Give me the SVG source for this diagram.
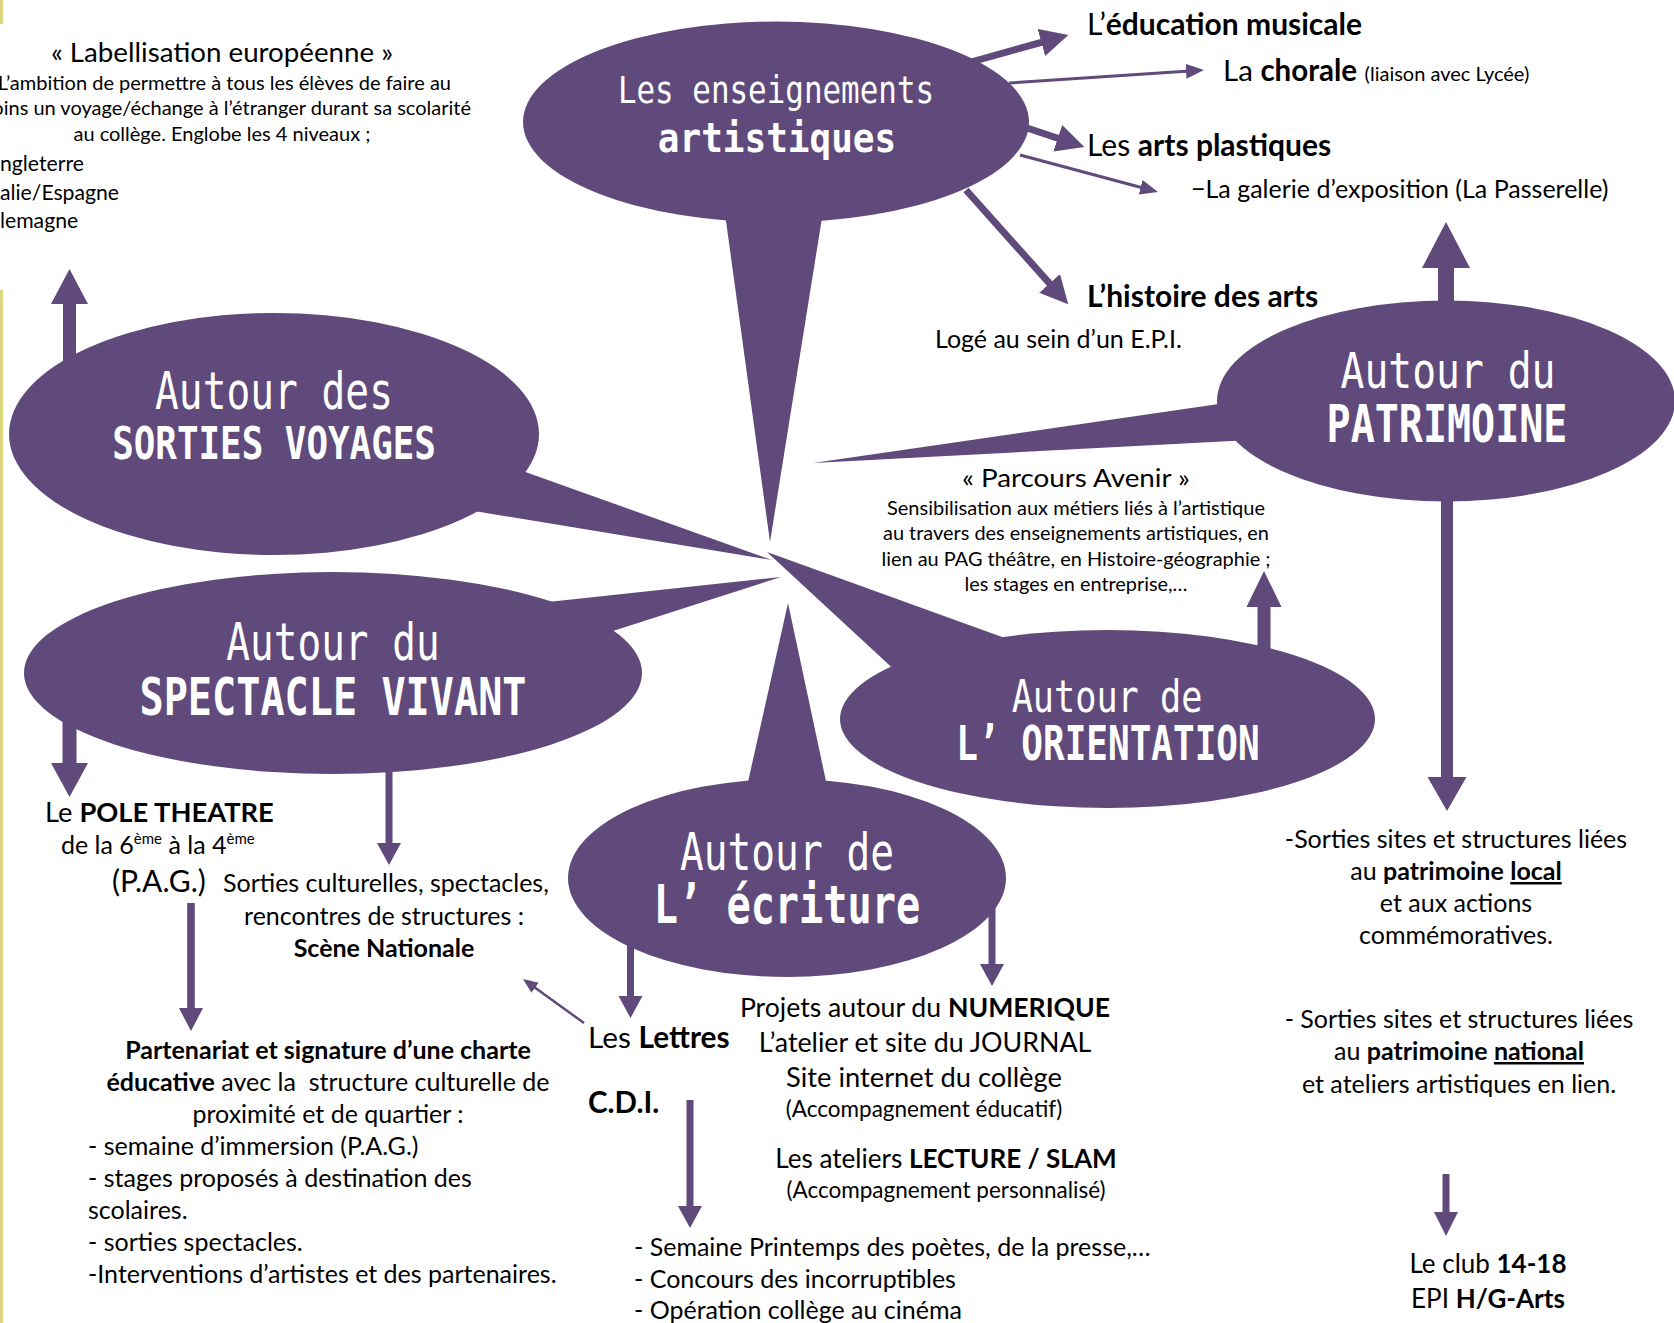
<svg xmlns="http://www.w3.org/2000/svg" width="1674" height="1323" viewBox="0 0 1674 1323">
<style>
.t{font-family:Lato,"Open Sans",sans-serif;fill:#000}
.b{font-weight:bold}
.bt{font-family:"DejaVu Sans Mono","Liberation Mono",monospace;fill:#fff;text-anchor:middle}
.p{fill:#604A7B}
.ln{stroke:#604A7B;fill:none}
.ar{fill:#604A7B}
.m{text-anchor:middle}
.e{text-anchor:end}
.u{text-decoration:underline}
</style>
<defs>
<marker id="hb" viewBox="0 0 10 10" refX="2" refY="5" markerWidth="4" markerHeight="4" orient="auto" markerUnits="strokeWidth"><path d="M0,0 L10,5 L0,10 z" fill="#604A7B"/></marker>
<marker id="hs" viewBox="0 0 12 10" refX="2.4" refY="5" markerWidth="6" markerHeight="5" orient="auto" markerUnits="strokeWidth"><path d="M0,0 L12,5 L0,10 z" fill="#604A7B"/></marker>
</defs>
<rect width="1674" height="1323" fill="#fff"/>
<g id="edge-stripe">
<rect x="0" y="0" width="3" height="24" fill="#DCD67E"/>
<rect x="0" y="290" width="3" height="1033" fill="#DCD67E"/>
</g>

<g id="connectors">
<line class="ln" x1="971" y1="62" x2="1046.8" y2="40.9" stroke-width="7" marker-end="url(#hb)"/>
<line class="ln" x1="1009" y1="83" x2="1189.6" y2="71" stroke-width="3" marker-end="url(#hs)"/>
<line class="ln" x1="1027" y1="128" x2="1063.1" y2="140" stroke-width="7" marker-end="url(#hb)"/>
<line class="ln" x1="1020" y1="155" x2="1144.1" y2="188.3" stroke-width="3" marker-end="url(#hs)"/>
<line class="ln" x1="966" y1="190" x2="1053.3" y2="287.6" stroke-width="7" marker-end="url(#hb)"/>
<line class="ln" x1="584" y1="1023" x2="532.7" y2="986" stroke-width="2.5" marker-end="url(#hs)"/>
<polygon class="ar" points="63,362 76,362 76,304 88,304 69.5,269 51,304 63,304"/>
<polygon class="ar" points="62.5,715 76.5,715 76.5,763 88,763 69.5,797 51,763 62.5,763"/>
<polygon class="ar" points="385.5,765 392.5,765 392.5,843 401,843 389,865 377,843 385.5,843"/>
<polygon class="ar" points="187.2,903 194.8,903 194.8,1008 203,1008 191,1031 179,1008 187.2,1008"/>
<polygon class="ar" points="627,940 634,940 634,996 642.5,996 630.5,1018 618.5,996 627,996"/>
<polygon class="ar" points="988.5,905 995.5,905 995.5,964 1004,964 992,986 980,964 988.5,964"/>
<polygon class="ar" points="686.5,1100 693.5,1100 693.5,1206 702,1206 690,1228 678,1206 686.5,1206"/>
<polygon class="ar" points="1441,495 1453,495 1453,777 1466.5,777 1447,811 1427.5,777 1441,777"/>
<polygon class="ar" points="1442.5,1174 1449.5,1174 1449.5,1212 1458,1212 1446,1236 1434,1212 1442.5,1212"/>
<polygon class="ar" points="1438,310 1454,310 1454,268 1470,268 1446,222 1422,268 1438,268"/>
<polygon class="ar" points="1257.5,652 1270.5,652 1270.5,607 1281.5,607 1264,571 1246.5,607 1257.5,607"/>
</g>

<g id="node-enseignements">
<ellipse class="p" cx="776" cy="122" rx="253" ry="100.5"/>
<polygon class="p" points="723,199 825,199 770,542"/>
<text class="bt" transform="translate(776,103) scale(0.835,1)" font-size="37">Les enseignements</text>
<text class="bt" transform="translate(777,152) scale(0.9,1)" font-size="40" font-weight="bold">artistiques</text>
</g>

<g id="node-sorties">
<ellipse class="p" cx="274" cy="434" rx="265" ry="121"/>
<polygon class="p" points="500,463 772,560 450,507"/>
<text class="bt" transform="translate(274,409) scale(0.775,1)" font-size="51">Autour des</text>
<text class="bt" transform="translate(274,459) scale(0.815,1)" font-size="44" font-weight="bold">SORTIES VOYAGES</text>
</g>

<g id="node-spectacle">
<ellipse class="p" cx="333" cy="673" rx="309" ry="101"/>
<polygon class="p" points="520,605 781,577 560,648"/>
<text class="bt" transform="translate(333,660) scale(0.772,1)" font-size="51">Autour du</text>
<text class="bt" transform="translate(333,715) scale(0.788,1)" font-size="51" font-weight="bold">SPECTACLE VIVANT</text>
</g>

<g id="node-patrimoine">
<ellipse class="p" cx="1446" cy="401" rx="229" ry="100.5"/>
<polygon class="p" points="813,463 1260,398 1270,439"/>
<text class="bt" transform="translate(1448,388) scale(0.81,1)" font-size="49">Autour du</text>
<text class="bt" transform="translate(1447,442) scale(0.785,1)" font-size="51" font-weight="bold">PATRIMOINE</text>
</g>

<g id="node-orientation">
<ellipse class="p" cx="1107.5" cy="719" rx="267.5" ry="89"/>
<polygon class="p" points="767,552 1030,647 940,712"/>
<text class="bt" transform="translate(1107,712) scale(0.8,1)" font-size="44">Autour de</text>
<text class="bt" transform="translate(1108,760) scale(0.75,1)" font-size="48" font-weight="bold" style="white-space:pre">L’ ORIENTATION</text>
</g>

<g id="node-ecriture">
<ellipse class="p" cx="787" cy="878" rx="219" ry="99"/>
<polygon class="p" points="788,603 830,800 744,800"/>
<text class="bt" transform="translate(787,870) scale(0.775,1)" font-size="51">Autour de</text>
<text class="bt" transform="translate(787,923) scale(0.76,1)" font-size="53" font-weight="bold" style="white-space:pre">L’ écriture</text>
</g>

<g id="text-labellisation">
<text class="t m" x="222" y="62" font-size="27.7">« Labellisation européenne »</text>
<text class="t e" x="451" y="90" font-size="20">L’ambition de permettre à tous les élèves de faire au</text>
<text class="t e" x="471" y="115" font-size="20">oins un voyage/échange à l’étranger durant sa scolarité</text>
<text class="t m" x="222" y="141" font-size="20">au collège. Englobe les 4 niveaux ;</text>
<text class="t" x="0" y="171" font-size="21.2">ngleterre</text>
<text class="t" x="0" y="200" font-size="21.2">alie/Espagne</text>
<text class="t" x="0" y="228" font-size="21.2">lemagne</text>
</g>

<g id="text-enseignements">
<text class="t" x="1087" y="35" font-size="30">L’<tspan class="b">éducation musicale</tspan></text>
<text class="t" x="1223" y="81" font-size="29.5">La <tspan class="b">chorale</tspan> <tspan font-size="20">(liaison avec Lycée)</tspan></text>
<text class="t" x="1087" y="156" font-size="30">Les <tspan class="b">arts plastiques</tspan></text>
<text class="t" x="1191" y="198" font-size="25">−La galerie d’exposition (La Passerelle)</text>
<text class="t b" x="1087" y="307" font-size="30">L’histoire des arts</text>
<text class="t" x="935" y="348" font-size="25">Logé au sein d’un E.P.I.</text>
</g>

<g id="text-parcours">
<text class="t m" x="1076" y="487" font-size="25" textLength="228" lengthAdjust="spacingAndGlyphs">« Parcours Avenir »</text>
<text class="t m" x="1076" y="515" font-size="19" textLength="378" lengthAdjust="spacingAndGlyphs">Sensibilisation aux métiers liés à l’artistique</text>
<text class="t m" x="1076" y="540" font-size="19" textLength="386" lengthAdjust="spacingAndGlyphs">au travers des enseignements artistiques, en</text>
<text class="t m" x="1076" y="566" font-size="19" textLength="389" lengthAdjust="spacingAndGlyphs">lien au PAG théâtre, en Histoire-géographie ;</text>
<text class="t m" x="1076" y="591" font-size="19" textLength="223" lengthAdjust="spacingAndGlyphs">les stages en entreprise,…</text>
</g>

<g id="text-spectacle">
<text class="t" x="45" y="822" font-size="27.3">Le <tspan class="b">POLE THEATRE</tspan></text>
<text class="t" x="61" y="854" font-size="25">de la 6<tspan font-size="15" dy="-10">ème</tspan><tspan dy="10"> à la 4</tspan><tspan font-size="15" dy="-10">ème</tspan></text>
<text class="t" x="112" y="892" font-size="30">(P.A.G.)</text>
<text class="t" x="223" y="892" font-size="25">Sorties culturelles, spectacles,</text>
<text class="t m" x="384" y="925" font-size="25">rencontres de structures :</text>
<text class="t m b" x="384" y="957" font-size="25">Scène Nationale</text>
<text class="t m" x="328" y="1059" font-size="25"><tspan class="b">Partenariat et signature d’une charte</tspan></text>
<text class="t m" x="328" y="1091" font-size="25" style="white-space:pre"><tspan class="b">éducative</tspan> avec la  structure culturelle de</text>
<text class="t m" x="328" y="1123" font-size="25">proximité et de quartier :</text>
<text class="t" x="88" y="1155" font-size="25">- semaine d’immersion (P.A.G.)</text>
<text class="t" x="88" y="1187" font-size="25">- stages proposés à destination des</text>
<text class="t" x="88" y="1219" font-size="25">scolaires.</text>
<text class="t" x="88" y="1251" font-size="25">- sorties spectacles.</text>
<text class="t" x="88" y="1283" font-size="25">-Interventions d’artistes et des partenaires.</text>
</g>

<g id="text-ecriture">
<text class="t" x="588" y="1048" font-size="29.8">Les <tspan class="b">Lettres</tspan></text>
<text class="t b" x="588" y="1113" font-size="29.5">C.D.I.</text>
<text class="t m" x="925" y="1017" font-size="26.6">Projets autour du <tspan class="b">NUMERIQUE</tspan></text>
<text class="t m" x="925" y="1052" font-size="26.8">L’atelier et site du JOURNAL</text>
<text class="t m" x="924" y="1087" font-size="27.3">Site internet du collège</text>
<text class="t m" x="924" y="1117" font-size="22.5">(Accompagnement éducatif)</text>
<text class="t m" x="946" y="1168" font-size="26.1">Les ateliers <tspan class="b">LECTURE / SLAM</tspan></text>
<text class="t m" x="946" y="1198" font-size="22.5">(Accompagnement personnalisé)</text>
<text class="t" x="634" y="1256" font-size="25">- Semaine Printemps des poètes, de la presse,…</text>
<text class="t" x="634" y="1288" font-size="25">- Concours des incorruptibles</text>
<text class="t" x="634" y="1319" font-size="25">- Opération collège au cinéma</text>
</g>

<g id="text-patrimoine">
<text class="t m" x="1456" y="848" font-size="25">-Sorties sites et structures liées</text>
<text class="t m" x="1456" y="880" font-size="25">au <tspan class="b">patrimoine</tspan> <tspan class="b u">local</tspan></text>
<text class="t m" x="1456" y="912" font-size="25">et aux actions</text>
<text class="t m" x="1456" y="944" font-size="25">commémoratives.</text>
<text class="t m" x="1459" y="1028" font-size="25">- Sorties sites et structures liées</text>
<text class="t m" x="1459" y="1060" font-size="25">au <tspan class="b">patrimoine</tspan> <tspan class="b u">national</tspan></text>
<text class="t m" x="1459" y="1093" font-size="25">et ateliers artistiques en lien.</text>
<text class="t m" x="1488" y="1273" font-size="26">Le club <tspan class="b">14-18</tspan></text>
<text class="t m" x="1488" y="1308" font-size="26">EPI <tspan class="b">H/G-Arts</tspan></text>
</g>
</svg>
